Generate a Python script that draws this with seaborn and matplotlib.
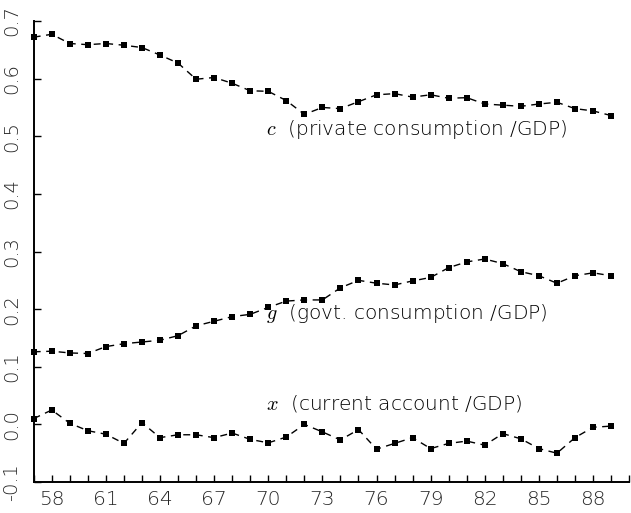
import numpy as np
import pandas as pd
import matplotlib
matplotlib.use("Agg")
import matplotlib.pyplot as plt
import seaborn as sns

years = list(range(57, 90))

c_ratio = [0.672, 0.677, 0.661, 0.659, 0.661, 0.658, 0.654, 0.641, 0.627, 0.599,
           0.602, 0.592, 0.579, 0.578, 0.562, 0.538, 0.550, 0.548, 0.560, 0.572,
           0.574, 0.568, 0.572, 0.566, 0.567, 0.556, 0.554, 0.552, 0.556, 0.559,
           0.548, 0.544, 0.536]

g_ratio = [0.126, 0.127, 0.124, 0.123, 0.135, 0.140, 0.143, 0.146, 0.154, 0.171,
           0.179, 0.187, 0.191, 0.203, 0.214, 0.216, 0.216, 0.237, 0.250, 0.245,
           0.242, 0.249, 0.255, 0.272, 0.282, 0.287, 0.279, 0.265, 0.258, 0.245,
           0.258, 0.263, 0.258]

x_ratio = [0.010, 0.025, 0.002, -0.011, -0.017, -0.033, 0.003, -0.023, -0.018, -0.018,
           -0.023, -0.015, -0.026, -0.032, -0.022, 0.000, -0.013, -0.027, -0.009, -0.043,
           -0.033, -0.023, -0.042, -0.033, -0.029, -0.036, -0.016, -0.025, -0.042, -0.050,
           -0.023, -0.005, -0.003]

labels = ["$c$  (private consumption /GDP)",
          "$g$  (govt. consumption /GDP)",
          "$x$  (current account /GDP)"]
label_pos = [(69.9, 0.511), (69.9, 0.193), (69.9, 0.037)]

yticks = [-0.1, 0.0, 0.1, 0.2, 0.3, 0.4, 0.5, 0.6, 0.7]
xticks_major = list(range(58, 89, 3))

sns.set_style("ticks")
plt.rcParams['font.family'] = ['DejaVu Sans']
plt.rcParams['mathtext.fontset'] = 'cm'

fig = plt.figure(figsize=(6.31, 5.13), dpi=100)
ax = fig.add_axes([0.0534, 0.0604, 0.9436, 0.8986])

for series in [c_ratio, g_ratio, x_ratio]:
    sns.lineplot(x=years, y=series, ax=ax, color='black', linewidth=1.0,
                 linestyle=(0, (5, 4)), marker='s', markersize=4.2,
                 markeredgewidth=0, clip_on=False)

for text, (tx, ty) in zip(labels, label_pos):
    ax.text(tx, ty, text, fontsize=14.5, va='center', ha='left', color='black',
            fontweight='light')

ax.set_xlim(57, 90)
ax.set_ylim(-0.1, 0.7)
ax.set_xticks(xticks_major)
ax.set_xticklabels([str(t) for t in xticks_major], fontsize=14.5, fontweight='light')
ax.set_xticks(range(57, 91), minor=True)
ax.set_yticks(yticks)
ax.set_yticklabels([f"{t:.1f}" for t in yticks], fontsize=14, rotation=90, va='center',
                   fontweight='light')
ax.tick_params(axis='both', which='both', direction='in', length=5, width=1, color='black')
ax.tick_params(axis='x', pad=6)
ax.tick_params(axis='y', pad=9)

sns.despine(ax=ax, top=True, right=True)
for s in ['left', 'bottom']:
    ax.spines[s].set_linewidth(1.4)
    ax.spines[s].set_color('black')

fig.savefig("out.png", dpi=100, facecolor='white')
